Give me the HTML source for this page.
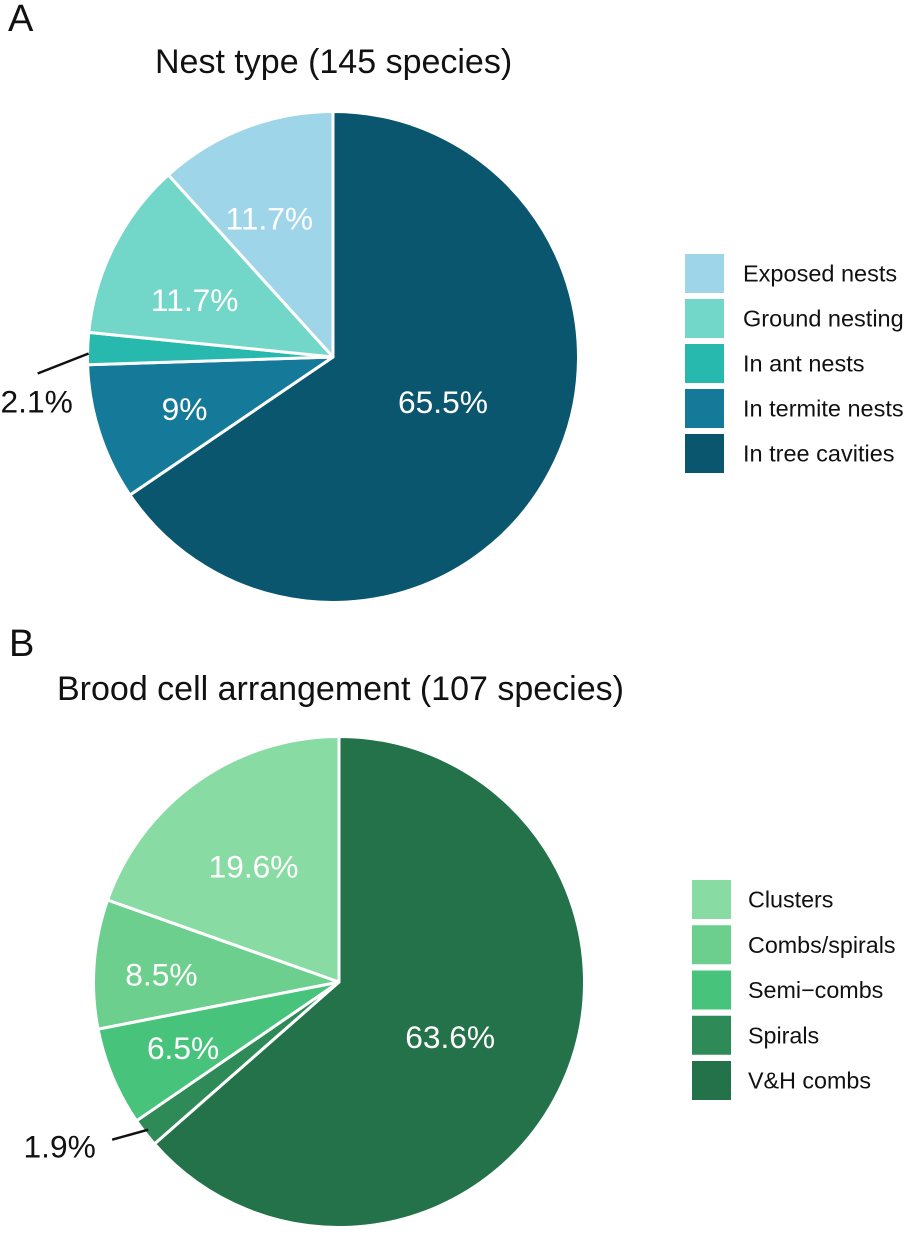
<!DOCTYPE html>
<html lang="en">
<head>
<meta charset="utf-8">
<title>Nest type and brood cell arrangement</title>
<style>
html,body{margin:0;padding:0;background:#fff;}
svg{display:block;font-family:"Liberation Sans",Arial,sans-serif;}
</style>
</head>
<body>
<svg id="chart" xmlns="http://www.w3.org/2000/svg" width="909" height="1234" viewBox="0 0 909 1234">
  <rect width="909" height="1234" fill="#ffffff"/>
  <text x="8" y="31" font-size="38" fill="#111">A</text>
  <text x="9" y="656" font-size="38" fill="#111">B</text>
  <text x="155" y="73" font-size="34" fill="#111">Nest type (145 species)</text>
  <text x="57" y="700" font-size="34" fill="#111">Brood cell arrangement (107 species)</text>
  <g id="panel-a"></g>
  <g id="panel-b"></g>
</svg>
<script>
// Data: categories in legend order; slices run clockwise from 12 o'clock in reverse legend order.
const nestCategories = ["Exposed nests", "Ground nesting", "In ant nests", "In termite nests", "In tree cavities"];
const nestValues = [11.7, 11.7, 2.1, 9, 65.5];
const nestColors = ["#9fd5e8", "#72d6c9", "#27b9ad", "#157a99", "#0a566e"];

const broodCategories = ["Clusters", "Combs/spirals", "Semi\u2212combs", "Spirals", "V&H combs"];
const broodValues = [19.6, 8.5, 6.5, 1.9, 63.6];
const broodColors = ["#88dba3", "#6ccf8e", "#47c37b", "#2e8b57", "#237249"];

// Layout
const SVG_NS = "http://www.w3.org/2000/svg";
const RADIUS = 245.5;
const LABEL_RADIUS = 155;

const panelA = {
  rootId: "panel-a", slug: "nest",
  cx: 333, cy: 357,
  legendX: 685, legendY: 254, legendStep: 45, legendGap: 58, legendFont: 23.5,
  categories: nestCategories, values: nestValues, colors: nestColors,
  nudges: [[-8, 6], [0, 13], null, [-1, 4], [-27, -27.5]],
  calloutIndex: 2,
  calloutEnd: [1, 5], calloutStart: [-51, 20], calloutText: [-52, 48]
};
const panelB = {
  rootId: "panel-b", slug: "brood",
  cx: 339, cy: 982,
  legendX: 692, legendY: 880, legendStep: 45.25, legendGap: 56, legendFont: 23.3,
  categories: broodCategories, values: broodValues, colors: broodColors,
  nudges: [[4, 11], [-23, 4], [-13, 6], null, [-30, -9]],
  calloutIndex: 3,
  calloutEnd: [3, -3], calloutStart: [-36, 10], calloutText: [-88.5, 17]
};

function make(tag, parent) {
  const el = document.createElementNS(SVG_NS, tag);
  parent.appendChild(el);
  return el;
}

function polar(p, r, frac) {
  const a = frac * 2 * Math.PI;
  return [p.cx + r * Math.sin(a), p.cy - r * Math.cos(a)];
}

function drawPanel(p) {
  const root = document.getElementById(p.rootId);
  const total = p.values.reduce(function (s, v) { return s + v; }, 0);
  const slug = function (s) { return s.toLowerCase().replace(/[^a-z]+/g, "-"); };
  const textLayer = [];
  let cum = 0;

  for (let i = p.values.length - 1; i >= 0; i--) {
    const start = cum / total;
    cum += p.values[i];
    const end = cum / total;
    const mid = (start + end) / 2;
    const s = polar(p, RADIUS, start);
    const e = polar(p, RADIUS, end);
    const large = end - start > 0.5 ? 1 : 0;

    const slice = make("path", root);
    
    
    slice.setAttribute("d", "M" + p.cx + " " + p.cy + "L" + s[0] + " " + s[1] +
      "A" + RADIUS + " " + RADIUS + " 0 " + large + " 1 " + e[0] + " " + e[1] + "Z");
    slice.setAttribute("fill", p.colors[i]);
    slice.setAttribute("stroke", "#ffffff");
    slice.setAttribute("stroke-width", "3");
    slice.setAttribute("stroke-linejoin", "round");

    textLayer.push({ i: i, mid: mid });
  }

  textLayer.forEach(function (t) {
    const label = p.values[t.i] + "%";
    if (t.i === p.calloutIndex) {
      const edge = polar(p, RADIUS, t.mid);
      const x2 = edge[0] + p.calloutEnd[0];
      const y2 = edge[1] + p.calloutEnd[1];
      const line = make("line", root);
      
      
      line.setAttribute("x1", x2 + p.calloutStart[0]);
      line.setAttribute("y1", y2 + p.calloutStart[1]);
      line.setAttribute("x2", x2);
      line.setAttribute("y2", y2);
      line.setAttribute("stroke", "#111111");
      line.setAttribute("stroke-width", "2.5");
      const outside = make("text", root);
      
      
      outside.setAttribute("x", x2 + p.calloutText[0]);
      outside.setAttribute("y", y2 + p.calloutText[1]);
      outside.setAttribute("text-anchor", "middle");
      outside.setAttribute("dominant-baseline", "central");
      outside.setAttribute("font-size", "31.7");
      outside.setAttribute("fill", "#111111");
      outside.textContent = label;
    } else {
      const pos = polar(p, LABEL_RADIUS, t.mid);
      const nudge = p.nudges[t.i];
      const inside = make("text", root);
      
      
      inside.setAttribute("x", pos[0] + nudge[0]);
      inside.setAttribute("y", pos[1] + nudge[1]);
      inside.setAttribute("text-anchor", "middle");
      inside.setAttribute("dominant-baseline", "central");
      inside.setAttribute("font-size", "31.7");
      inside.setAttribute("fill", "#ffffff");
      inside.textContent = label;
    }
  });

  p.categories.forEach(function (name, i) {
    const y = p.legendY + i * p.legendStep;
    const swatch = make("rect", root);
    
    
    swatch.setAttribute("x", p.legendX);
    swatch.setAttribute("y", y);
    swatch.setAttribute("width", 39);
    swatch.setAttribute("height", 39);
    swatch.setAttribute("fill", p.colors[i]);
    const entry = make("text", root);
    
    
    entry.setAttribute("x", p.legendX + p.legendGap);
    entry.setAttribute("y", y + 19.5);
    entry.setAttribute("dominant-baseline", "central");
    entry.setAttribute("font-size", p.legendFont);
    entry.setAttribute("fill", "#111111");
    entry.textContent = name;
  });
}

drawPanel(panelA);
drawPanel(panelB);
</script>
</body>
</html>
